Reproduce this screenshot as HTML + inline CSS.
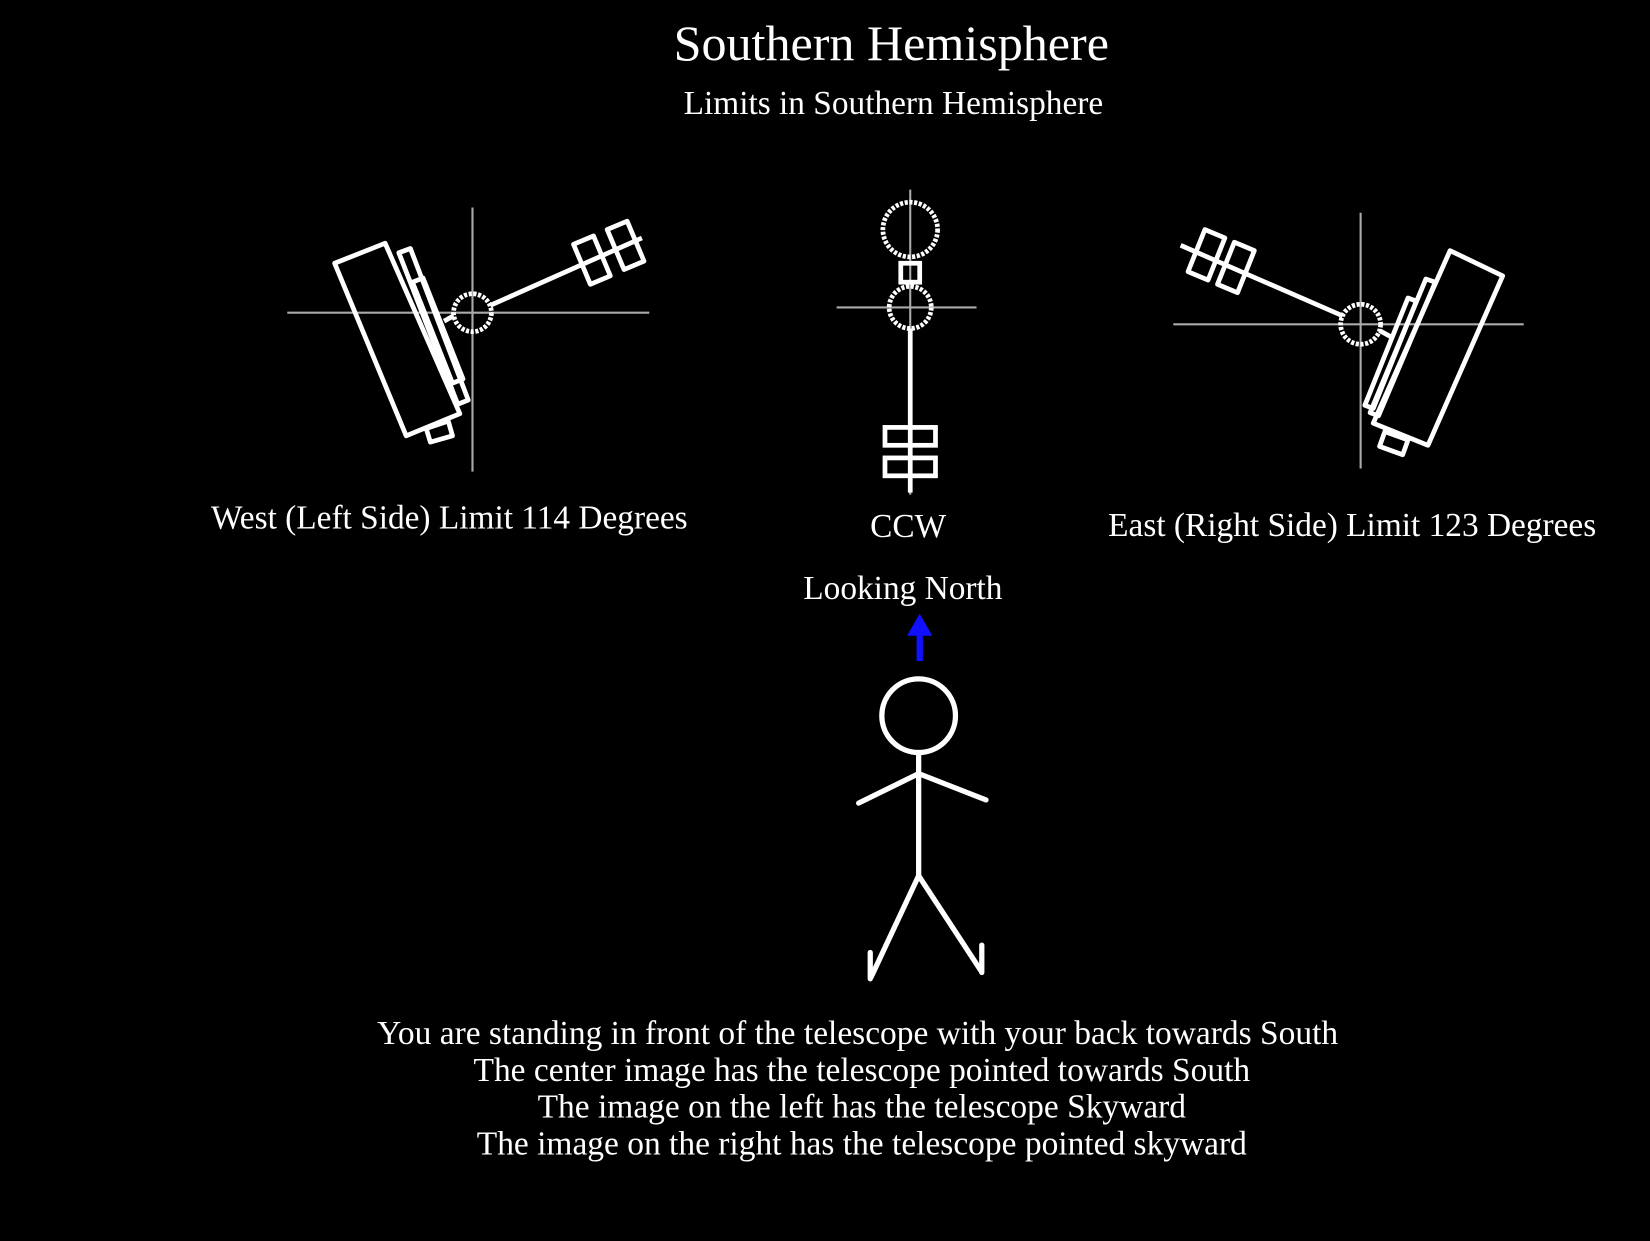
<!DOCTYPE html>
<html><head><meta charset="utf-8"><style>
html,body{margin:0;padding:0;background:#000;width:1650px;height:1241px;overflow:hidden}
svg{display:block}
text{font-family:"Liberation Serif",serif;fill:#fff}
</style></head><body>
<svg width="1650" height="1241" viewBox="0 0 1568 1179" xmlns="http://www.w3.org/2000/svg">
<rect width="1568" height="1179" fill="#000"/>
<text x="847" y="57" font-size="47.6" text-anchor="middle">Southern Hemisphere</text>
<text x="849" y="108" font-size="31.7" text-anchor="middle">Limits in Southern Hemisphere</text>

<g fill="none" stroke="#fff" stroke-width="4.5" stroke-linejoin="round">
<line x1="273" y1="297" x2="617" y2="297" stroke="#aaa" stroke-width="2"/>
<line x1="449" y1="197" x2="449" y2="448" stroke="#aaa" stroke-width="2"/>
<polygon points="318,250 366,231 437,393 386,414"/>
<polygon points="379,240 390,236 445,380 435,384"/>
<polygon points="392,268 402,264 440,360 430,364"/>
<polygon points="405,407 426,400 430,414 409,420"/>
<circle cx="449" cy="297" r="18" stroke-dasharray="3 1.5"/>
<line x1="431" y1="300" x2="422" y2="305"/>
<line x1="466" y1="290" x2="610" y2="226"/>
<polygon points="545,232 564,224 580,262 561,270"/>
<polygon points="577,218 596,210 612,248 593,256"/>
</g>

<g fill="none" stroke="#fff" stroke-width="4.5">
<line x1="795" y1="292" x2="928" y2="292" stroke="#aaa" stroke-width="2"/>
<line x1="865" y1="180" x2="865" y2="470" stroke="#aaa" stroke-width="2"/>
<circle cx="865" cy="218" r="26" stroke-dasharray="3 1.5"/>
<rect x="856" y="250" width="18" height="18"/>
<circle cx="865" cy="292" r="20" stroke-dasharray="3 1.5"/>
<line x1="865" y1="312" x2="865" y2="468"/>
<rect x="841" y="406" width="48" height="17"/>
<rect x="841" y="435" width="48" height="17"/>
</g>

<g fill="none" stroke="#fff" stroke-width="4.5" stroke-linejoin="round">
<line x1="1115" y1="308" x2="1448" y2="308" stroke="#aaa" stroke-width="2"/>
<line x1="1293" y1="202" x2="1293" y2="445" stroke="#aaa" stroke-width="2"/>
<polygon points="1378,238 1428,262 1357,423 1305,402"/>
<polygon points="1355,265 1364,268 1310,395 1302,392"/>
<polygon points="1338,283 1346,286 1305,388 1297,385"/>
<polygon points="1316,410 1338,418 1333,432 1311,424"/>
<circle cx="1293" cy="308" r="19" stroke-dasharray="3 1.5"/>
<line x1="1311" y1="314" x2="1322" y2="320"/>
<line x1="1276" y1="300" x2="1122" y2="233"/>
<polygon points="1145,218 1164,226 1148,266 1129,258"/>
<polygon points="1173,230 1192,238 1176,278 1157,270"/>
</g>

<text x="427" y="502" font-size="31.7" text-anchor="middle">West (Left Side) Limit 114 Degrees</text>
<text x="863" y="510" font-size="31.7" text-anchor="middle">CCW</text>
<text x="1285" y="509" font-size="31.7" text-anchor="middle">East (Right Side) Limit 123 Degrees</text>
<text x="858" y="569" font-size="31.7" text-anchor="middle">Looking North</text>

<g>
<line x1="874" y1="628" x2="874" y2="598" stroke="#1010ff" stroke-width="6"/>
<polygon points="862,604 874,583 886,604" fill="#1010ff"/>
</g>

<g fill="none" stroke="#fff" stroke-width="5" stroke-linecap="round">
<ellipse cx="873" cy="680" rx="35" ry="35"/>
<line x1="873" y1="715" x2="873" y2="832"/>
<polyline points="816,763 873,735 937,760"/>
<line x1="873" y1="832" x2="828" y2="928"/>
<line x1="873" y1="832" x2="932" y2="922"/>
<line x1="827" y1="905" x2="827" y2="930"/>
<line x1="933" y1="898" x2="933" y2="924"/>
</g>

<g font-size="31.8">
<text x="815" y="992" text-anchor="middle">You are standing in front of the telescope with your back towards South</text>
<text x="819" y="1027" text-anchor="middle">The center image has the telescope pointed towards South</text>
<text x="819" y="1062" text-anchor="middle">The image on the left has the telescope Skyward</text>
<text x="819" y="1097" text-anchor="middle">The image on the right has the telescope pointed skyward</text>
</g>
</svg>
</body></html>
